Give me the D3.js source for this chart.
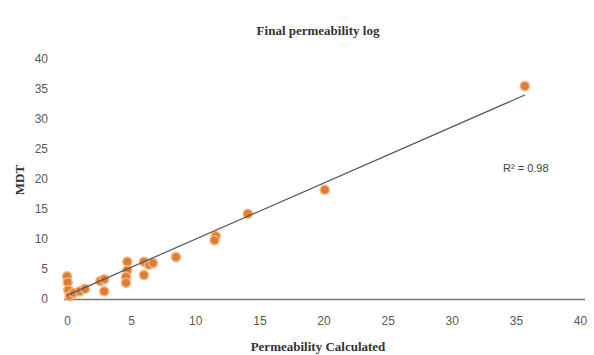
<!DOCTYPE html>
<html>
<head>
<meta charset="utf-8">
<script src="https://cdn.jsdelivr.net/npm/d3@7"></script>
<style>
  body { margin: 0; background: #fff; }
  text { font-family: "Liberation Sans", Arial, sans-serif; }
</style>
</head>
<body>
<div class="chart"></div>
<script>
// values
var calcValues = [0, 0.05, 0.1, 0.2, 0.5, 1.0, 1.4, 2.6, 2.9, 2.9, 4.7, 4.7, 4.6, 4.6, 6.0, 6.4, 6.0, 6.7, 8.5, 11.6, 11.5, 14.1, 20.1, 35.7]
var mdtValues = [3.8, 2.8, 1.5, 0.5, 1.0, 1.3, 1.7, 3.0, 3.3, 1.3, 6.2, 4.8, 3.7, 2.7, 6.2, 5.7, 4.0, 6.0, 7.0, 10.5, 9.8, 14.2, 18.2, 35.5]
var xTicks = [0, 5, 10, 15, 20, 25, 30, 35, 40]
var yTicks = [0, 5, 10, 15, 20, 25, 30, 35, 40]
var trend = [[0, 0.6], [35.7, 34.0]]
var rSquared = 'R² = 0.98'

var points = calcValues.map((d, i) => ({ x: d, y: mdtValues[i] }))

var svg = d3.select('.chart')
    .append('svg')
    .attr('width', 594)
    .attr('height', 355)

var x = d3.scaleLinear().domain([0, 40]).range([67, 580])
var y = d3.scaleLinear().domain([0, 40]).range([299, 59])

// title
svg.append('text')
    .attr('x', 318)
    .attr('y', 35)
    .attr('text-anchor', 'middle')
    .style('font-family', '"Liberation Serif", serif')
    .style('font-weight', 'bold')
    .style('font-size', '13px')
    .style('fill', '#333')
    .text('Final permeability log')

// y axis (labels only)
var yAxis = svg.append('g')
    .attr('transform', 'translate(' + 52 + ',0)')
    .call(d3.axisLeft(y).tickValues(yTicks).tickSize(0).tickPadding(4))
yAxis.select('.domain').remove()
yAxis.selectAll('text')
    .style('font-size', '12px')
    .style('fill', '#595959')

// x axis
var xAxis = svg.append('g')
    .attr('transform', 'translate(0,' + 299 + ')')
    .call(d3.axisBottom(x).tickValues(xTicks).tickSize(0).tickPadding(17))
xAxis.select('.domain')
    .attr('d', 'M' + (x(0) - 3) + ',0.5H' + (x(40) + 5))
    .style('stroke', '#777')
    .style('stroke-width', 1.3)
xAxis.selectAll('text')
    .style('font-size', '12px')
    .style('fill', '#595959')

// axis titles
svg.append('text')
    .attr('x', 318)
    .attr('y', 351)
    .attr('text-anchor', 'middle')
    .style('font-family', '"Liberation Serif", serif')
    .style('font-weight', 'bold')
    .style('font-size', '13px')
    .style('fill', '#333')
    .text('Permeability Calculated')

svg.append('text')
    .attr('transform', 'translate(24,180) rotate(-90)')
    .attr('text-anchor', 'middle')
    .style('font-family', '"Liberation Serif", serif')
    .style('font-weight', 'bold')
    .style('font-size', '13px')
    .style('fill', '#333')
    .text('MDT')

// points
svg.append('g')
    .selectAll('circle')
    .data(points)
    .enter()
    .append('circle')
    .attr('cx', d => x(d.x))
    .attr('cy', d => y(d.y))
    .attr('r', 4.5)
    .style('fill', '#e07d35')
    .style('stroke', '#f3b47c')
    .style('stroke-width', 1.5)

// trend line
svg.append('line')
    .attr('x1', x(trend[0][0]))
    .attr('y1', y(trend[0][1]))
    .attr('x2', x(trend[1][0]))
    .attr('y2', y(trend[1][1]))
    .style('stroke', '#555')
    .style('stroke-width', 1.2)

svg.append('text')
    .attr('x', 503)
    .attr('y', 172)
    .style('font-size', '11px')
    .style('fill', '#404040')
    .text(rSquared)
</script>
</body>
</html>
